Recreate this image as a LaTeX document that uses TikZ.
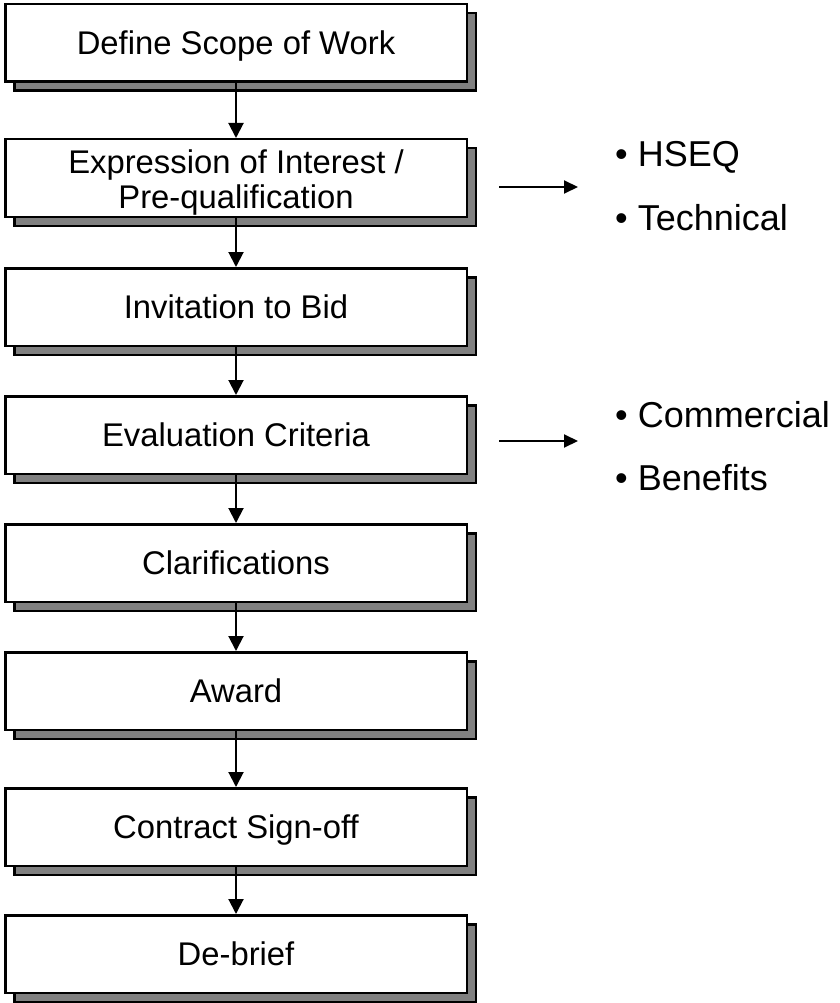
\documentclass[tikz,border=0pt]{standalone}
\usepackage{fontspec}
\setmainfont{Liberation Sans}
\usetikzlibrary{arrows.meta,shadows}
\definecolor{shadowgray}{RGB}{128,128,128}
\tikzset{
  stepbox/.style={draw=black, fill=white, line width=2.5pt, inner sep=0pt,
    minimum width=461.5pt, minimum height=77.5pt,
    font=\fontsize{32.8}{34}\selectfont, text height=23.5pt, text depth=0pt,
    general shadow={shadow xshift=9pt, shadow yshift=-9pt,
      fill=shadowgray, draw=black, line width=2.5pt}},
  steptext/.style={anchor=base, inner sep=0pt, font=\fontsize{32.8}{34}\selectfont},
  flow/.style={line width=2pt, -{Triangle[length=15pt,width=15pt]}},
  side/.style={line width=2pt, -{Triangle[length=14pt,width=13pt]}},
  bullet/.style={anchor=base west, inner sep=0pt, font=\fontsize{36}{37}\selectfont}
}
\begin{document}
\begin{tikzpicture}[x=1pt,y=-1pt]
\useasboundingbox (0,0) rectangle (839,1003);
% process steps
\node[stepbox] (b1) at (236,43)  {Define Scope of Work};
\node[stepbox] (b2) at (236,178) {};
\node[steptext] (t2a) at (236,174) {Expression of Interest /};
\node[steptext] (t2b) at (236,208) {Pre-qualification};
\node[stepbox] (b3) at (236,307) {Invitation to Bid};
\node[stepbox] (b4) at (236,435) {Evaluation Criteria};
\node[stepbox] (b5) at (236,563) {Clarifications};
\node[stepbox] (b6) at (236,691) {Award};
\node[stepbox] (b7) at (236,827) {Contract Sign-off};
\node[stepbox] (b8) at (236,954) {De-brief};
% downward links
\foreach \a/\b in {b1/b2,b2/b3,b3/b4,b4/b5,b5/b6,b6/b7,b7/b8}
  \draw[flow] (\a.south) -- (\b.north);
% side notes
\node[bullet] (n1) at (615,167) {\textbullet\ HSEQ};
\node[bullet] (n2) at (615,230) {\textbullet\ Technical};
\node[bullet] (n3) at (615,427) {\textbullet\ Commercial};
\node[bullet] (n4) at (615,490) {\textbullet\ Benefits};
\coordinate (s2) at ([shift={(31,9)}]b2.east);
\coordinate (e2) at ([shift={(-37,9)}]b2.east -| n1.west);
\coordinate (s4) at ([shift={(31,6)}]b4.east);
\coordinate (e4) at ([shift={(-37,6)}]b4.east -| n3.west);
\draw[side] (s2) -- (e2);
\draw[side] (s4) -- (e4);
\end{tikzpicture}
\end{document}
